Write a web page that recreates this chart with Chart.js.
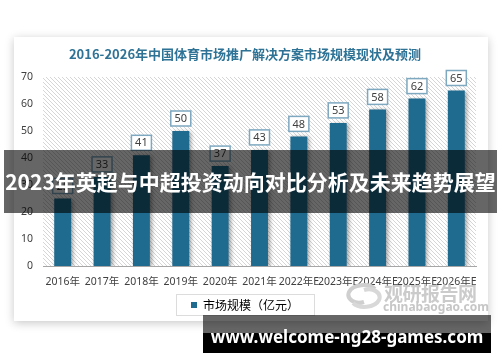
<!DOCTYPE html>
<html><head><meta charset="utf-8">
<script src="https://cdn.jsdelivr.net/npm/chart.js@4"></script>
<style>
html,body{margin:0;padding:0;background:#fff;width:500px;height:362px;overflow:hidden;position:relative;font-family:"Noto Sans","Noto Sans CJK SC",sans-serif;}
#card{position:absolute;left:14px;top:37px;width:474px;height:284px;background:#fff;box-shadow:0 2px 9px rgba(0,0,0,0.22);}
#card canvas{position:absolute;left:0;top:0;}
#wm{position:absolute;left:345px;top:280px;width:135px;height:36px;}
#wm .cn{position:absolute;left:39px;top:-1px;font:bold 19px "Noto Sans CJK SC";color:#cbcbcb;letter-spacing:-0.5px;white-space:nowrap;}
#wm .en{position:absolute;left:38px;top:18px;font:bold 12px "Noto Sans";color:#c6c6c6;white-space:nowrap;}
#wm svg{position:absolute;left:0;top:3px;}
#b1{position:absolute;left:4px;top:150px;width:493px;height:63px;background:rgba(0,0,0,0.6);color:#fff;font:bold 21px "Noto Sans CJK SC";line-height:63px;text-align:center;white-space:nowrap;}
#b2{position:absolute;left:203px;top:315px;width:288px;height:38px;background:linear-gradient(to bottom,rgba(0,0,0,0.6) 0,rgba(0,0,0,0.6) 18px,#000 18px);color:#fff;font:bold 17px "Noto Sans";line-height:43px;text-align:center;white-space:nowrap;}
</style></head>
<body>
<div id="card"><canvas id="c" width="474" height="284"></canvas></div>
<div id="wm">
<svg width="38" height="26" viewBox="0 0 38 26"><path d="M30 6 C24 0 8 1 4 9 C1 16 10 22 19 19" fill="none" stroke="#cfcfcf" stroke-width="4"/><path d="M8 20 C14 26 30 25 34 17 C37 10 28 4 19 7" fill="none" stroke="#d8d8d8" stroke-width="4"/></svg>
<div class="cn">观研报告网</div><div class="en">chinabaogao.com</div></div>
<div id="b1">2023年英超与中超投资动向对比分析及未来趋势展望</div>
<div id="b2">www.welcome-ng28-games.com</div>
<script>
const chartTitle = "2016-2026年中国体育市场推广解决方案市场规模现状及预测";
const categories = ["2016年","2017年","2018年","2019年","2020年","2021年","2022年E","2023年E","2024年E","2025年E","2026年E"];
const seriesName = "市场规模（亿元）";
const marketSize = [25,33,41,50,37,43,48,53,58,62,65];
const yTicks = [0,10,20,30,40,50,60,70];

const barColor = "#1f6b8f";

function hatchPattern(ctx){
  const p = document.createElement('canvas');
  p.width = 4; p.height = 4;
  const g = p.getContext('2d');
  g.fillStyle = '#ffffff'; g.fillRect(0,0,4,4);
  g.strokeStyle = '#d6d6d6'; g.lineWidth = 1;
  g.beginPath();
  g.moveTo(0,0); g.lineTo(4,4);
  g.moveTo(-1,3); g.lineTo(1,5);
  g.moveTo(3,-1); g.lineTo(5,1);
  g.stroke();
  return ctx.createPattern(p,'repeat');
}

const decor = {
  id:'decor',
  beforeDraw(chart){
    const {ctx, chartArea:a} = chart;
    ctx.save();
    ctx.fillStyle = hatchPattern(ctx);
    ctx.fillRect(a.left, a.top, a.right-a.left, a.bottom-a.top);
    ctx.restore();
  },
  beforeDatasetsDraw(chart){
    const ctx = chart.ctx;
    ctx.save();
    ctx.shadowColor = 'rgba(0,0,0,0.35)';
    ctx.shadowBlur = 4;
    ctx.shadowOffsetX = 2;
    ctx.shadowOffsetY = 1;
  },
  afterDatasetsDraw(chart){
    const ctx = chart.ctx;
    ctx.restore();
    const meta = chart.getDatasetMeta(0);
    ctx.save();
    ctx.font = '11px "Noto Sans"';
    ctx.textAlign = 'center';
    ctx.textBaseline = 'middle';
    meta.data.forEach((bar,i)=>{
      const v = chart.data.datasets[0].data[i];
      const w = 20, h = 15;
      const x = bar.x - w/2, y = bar.y - 5 - h;
      ctx.fillStyle = '#fff';
      ctx.fillRect(x,y,w,h);
      ctx.strokeStyle = '#7ea8c0';
      ctx.lineWidth = 1.5;
      ctx.strokeRect(x,y,w,h);
      ctx.fillStyle = '#404040';
      ctx.fillText(String(v), bar.x, y + h/2 + 0.5);
    });
    ctx.restore();
  },
  afterDraw(chart){
    const lg = chart.legend;
    if(!lg || !lg.legendHitBoxes || !lg.legendHitBoxes.length) return;
    const hb = lg.legendHitBoxes[0];
    const ctx = chart.ctx;
    ctx.save();
    ctx.strokeStyle = '#dcdcdc';
    ctx.lineWidth = 1;
    ctx.strokeRect(Math.round(hb.left-15)+0.5, Math.round(hb.top-5)+0.5, Math.round(hb.width+30), 21);
    ctx.restore();
  }
};

new Chart(document.getElementById('c'), {
  type:'bar',
  data:{labels:categories, datasets:[{label:seriesName, data:marketSize, backgroundColor:barColor, borderWidth:0, categoryPercentage:1, barPercentage:0.43}]},
  options:{
    responsive:false, animation:false, devicePixelRatio:1,
    layout:{padding:{left:0,right:12,top:0,bottom:0}},
    plugins:{
      title:{display:true, text:chartTitle, color:'#2e7396', font:{family:'"Noto Sans CJK SC"', size:13, weight:'bold', lineHeight:1.2}, padding:{top:9,bottom:15.4}},
      legend:{position:'bottom', labels:{boxWidth:6, boxHeight:6, color:'#333', font:{family:'"Noto Sans CJK SC"', size:12}, padding:10, generateLabels(chart){return [{text:seriesName, fillStyle:barColor, strokeStyle:barColor, lineWidth:0, datasetIndex:0}];}}},
      tooltip:{enabled:false}
    },
    scales:{
      x:{grid:{display:false, drawTicks:false}, border:{display:true,color:'#a6a6a6',width:1},
         ticks:{autoSkip:false, maxRotation:0, minRotation:0, padding:10, color:'#404040', font:{family:'"Noto Sans","Noto Sans CJK SC"', size:10.5}},
         afterFit(s){s.height = 23;}},
      y:{min:0, max:70, grid:{display:false, drawTicks:false}, border:{display:false},
         afterBuildTicks(s){s.ticks = yTicks.map(v=>({value:v}));},
         ticks:{padding:10, color:'#404040', font:{family:'"Noto Sans"', size:10.5}},
         afterFit(s){s.width = 29;}}
    }
  },
  plugins:[decor]
});
</script>
</body></html>
